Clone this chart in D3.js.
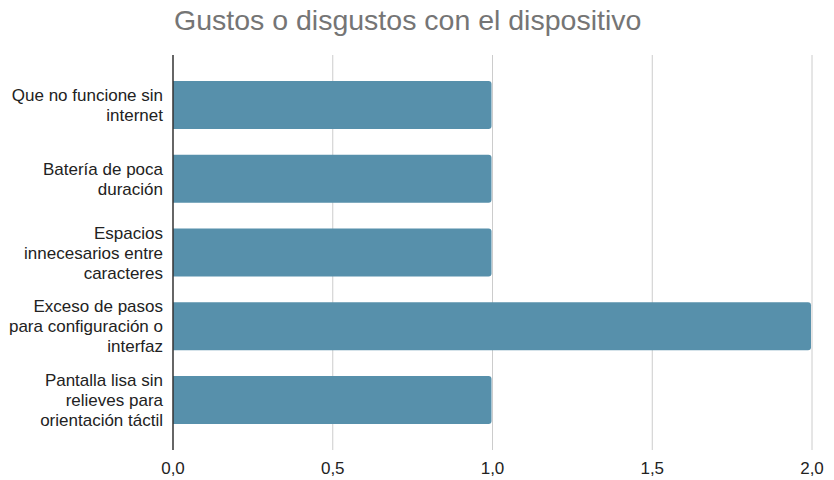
<!DOCTYPE html>
<html>
<head>
<meta charset="utf-8">
<script src="https://cdn.jsdelivr.net/npm/d3@7"></script>
<style>
  body { margin: 0; background: #fff; }
  svg { font-family: "Liberation Sans", Arial, sans-serif; }
</style>
</head>
<body>
<div id="chart"></div>
<script>
const title = "Gustos o disgustos con el dispositivo";
const categories = [
  "Que no funcione sin\ninternet",
  "Batería de poca\nduración",
  "Espacios\ninnecesarios entre\ncaracteres",
  "Exceso de pasos\npara configuración o\ninterfaz",
  "Pantalla lisa sin\nrelieves para\norientación táctil"
];
const values = [1, 1, 1, 2, 1];
const xTicks = [0, 0.5, 1, 1.5, 2];

const width = 834, height = 480;
const margin = { top: 55, right: 22, bottom: 30, left: 173 };

const svg = d3.select("#chart").append("svg")
  .attr("width", width)
  .attr("height", height);

const x = d3.scaleLinear()
  .domain([0, 2])
  .range([margin.left, width - margin.right]);

const y = d3.scaleBand()
  .domain(categories)
  .range([68, 437])
  .paddingInner(0.35)
  .paddingOuter(0.175);

const plotBottom = height - margin.bottom;

// title
svg.append("text")
  .attr("x", 174)
  .attr("y", 30)
  .attr("font-size", 28.5)
  .attr("fill", "#757575")
  .text(title);

// grid
svg.append("g")
  .selectAll("line")
  .data(xTicks.filter(d => d > 0))
  .enter().append("line")
  .attr("x1", d => x(d))
  .attr("x2", d => x(d))
  .attr("y1", margin.top)
  .attr("y2", plotBottom)
  .attr("stroke", "#cccccc")
  .attr("stroke-width", 1);

// bars, small rounded right end
const r = 3;
svg.append("g")
  .selectAll("path")
  .data(values)
  .enter().append("path")
  .attr("fill", "#5790ab")
  .attr("d", (d, i) => {
    const x0 = x(0), x1 = x(d) - 1, y0 = y(categories[i]), h = y.bandwidth();
    return `M${x0},${y0}H${x1 - r}Q${x1},${y0} ${x1},${y0 + r}V${y0 + h - r}Q${x1},${y0 + h} ${x1 - r},${y0 + h}H${x0}Z`;
  });

// y axis line
svg.append("line")
  .attr("x1", x(0))
  .attr("x2", x(0))
  .attr("y1", margin.top)
  .attr("y2", plotBottom)
  .attr("stroke", "#333333")
  .attr("stroke-width", 1.5);

// category labels
const lineH = 20;
categories.forEach(c => {
  const lines = c.split("\n");
  const cy = y(c) + y.bandwidth() / 2;
  const t = svg.append("text")
    .attr("text-anchor", "end")
    .attr("font-size", 17)
    .attr("fill", "#222");
  lines.forEach((ln, j) => {
    t.append("tspan")
      .attr("x", 163)
      .attr("y", cy + (j - (lines.length - 1) / 2) * lineH + 6)
      .text(ln);
  });
});

// x tick labels
const fmt = d => d.toFixed(1).replace(".", ",");
svg.append("g")
  .selectAll("text")
  .data(xTicks)
  .enter().append("text")
  .attr("x", d => x(d))
  .attr("y", 474)
  .attr("text-anchor", "middle")
  .attr("font-size", 17)
  .attr("fill", "#222")
  .text(fmt);
</script>
</body>
</html>
